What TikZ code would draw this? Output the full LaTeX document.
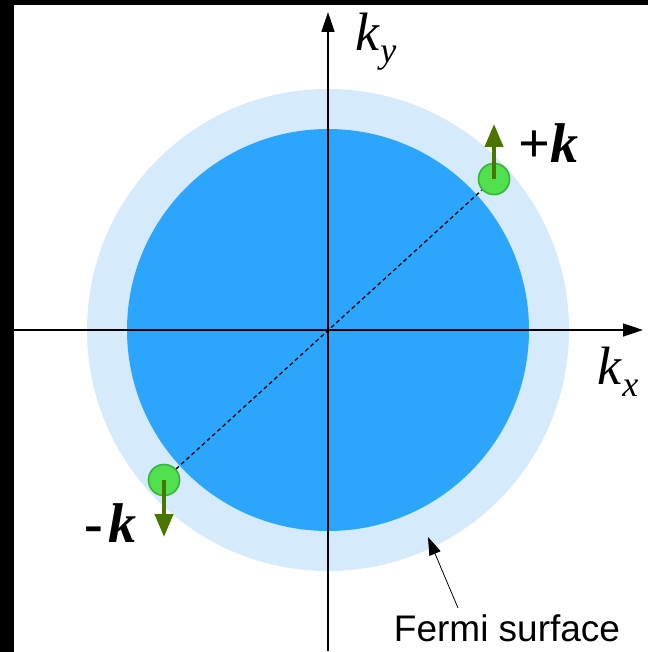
\documentclass[tikz,border=0pt]{standalone}
\usepackage{fontspec}
\setmainfont{Liberation Serif}
\newfontfamily\labelsans{Liberation Sans}
\usetikzlibrary{arrows.meta}
\definecolor{outerblue}{HTML}{D5EAFA}
\definecolor{innerblue}{HTML}{2BA6FC}
\definecolor{gfill}{HTML}{50E050}
\definecolor{gborder}{HTML}{3CB43C}
\definecolor{spin}{HTML}{4A7500}
\newcommand{\kwith}[1]{\textit{k}\raisebox{-12pt}{\fontsize{36}{36}\selectfont\textit{#1}}}
\tikzset{
  axis/.style={line width=1.6pt,-{Triangle[length=20pt,width=13pt]}},
  particle/.style={circle,fill=gfill,draw=gborder,line width=1.5pt,minimum size=31pt,inner sep=0pt},
  spinarrow/.style={spin,line width=4pt,-{Triangle[length=23pt,width=18pt]}},
  klabel/.style={inner sep=0pt,font=\fontsize{54}{54}\selectfont},
  bklabel/.style={inner sep=0pt,font=\fontsize{56}{56}\selectfont\bfseries},
}
\begin{document}
\begin{tikzpicture}[x=1pt,y=-1pt]
\useasboundingbox (0,0) rectangle (648,652);
\fill[white] (0,0) rectangle (648,652);
\fill[black] (0,0) rectangle (14,652);
\fill[black] (0,0) rectangle (648,5);
\coordinate (O) at (328,330);
\fill[outerblue] (O) circle (241);
\fill[innerblue] (O) circle (201);
% axes
\coordinate (ybot) at (328,651);
\coordinate (ytop) at (328,12);
\coordinate (xleft) at (14,330);
\coordinate (xright) at (643,330);
\draw[axis] (ybot) -- (ytop);
\draw[axis] (xleft) -- (xright);
\node[klabel] (ky) at (376,42) {\kwith{y}};
\node[klabel] (kx) at (618,372) {\kwith{x}};
% particles
\node[particle] (p1) at (494,179) {};
\node[particle] (p2) at (164,480) {};
\draw[dashed,line width=1.3pt,dash pattern=on 4pt off 3pt] (p2) -- (p1);
\node[particle] at (494,179) {};
\node[particle] at (164,480) {};
\coordinate (t1) at (494,124);
\coordinate (t2) at (164,537);
\draw[spinarrow] (p1.center) -- (t1);
\draw[spinarrow] (p2.center) -- (t2);
\node[bklabel,anchor=west] (pk) at (518,143) {+\textit{k}};
\node[bklabel,anchor=west] (mk) at (84,523) {-\hspace{6pt}\textit{k}};
% Fermi surface
\node[inner sep=0pt,anchor=base,font=\labelsans\fontsize{37}{37}\selectfont] (fs) at (507,641) {Fermi surface};
\coordinate (fstail) at (458,608);
\coordinate (fstip) at (428,537);
\draw[line width=0.8pt,-{Triangle[length=18pt,width=12pt]}] (fstail) -- (fstip);
\end{tikzpicture}
\end{document}
